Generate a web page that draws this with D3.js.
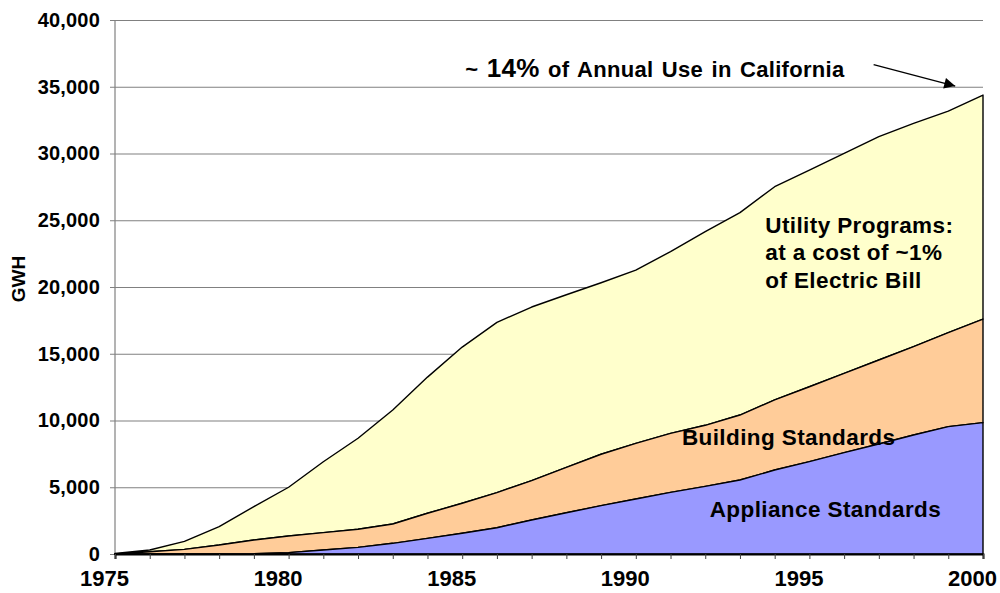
<!DOCTYPE html>
<html>
<head>
<meta charset="utf-8">
<script src="https://cdn.jsdelivr.net/npm/d3@7"></script>
<style>
  body { margin: 0; background: #fff; }
  text { font-family: "Liberation Sans", Arial, sans-serif; font-weight: bold; fill: #000; }
</style>
</head>
<body>
<div id="chart"></div>
<script>
// data (GWH saved per year)
const years = d3.range(1975, 2001);
const appliance = [0, 0, 0, 0, 20, 100, 300, 500, 800, 1170, 1550, 1970, 2550, 3090, 3620, 4120, 4620, 5070, 5540, 6290, 6920, 7590, 8240, 8910, 9540, 9840];
const building = [0, 170, 350, 670, 1030, 1250, 1300, 1350, 1450, 1880, 2250, 2630, 2940, 3400, 3850, 4170, 4420, 4570, 4870, 5250, 5610, 5940, 6290, 6620, 7040, 7760];
const utility = [50, 130, 600, 1380, 2500, 3650, 5310, 6820, 8540, 10200, 11700, 12750, 13010, 12930, 12850, 12980, 13610, 14500, 15160, 15970, 16230, 16480, 16730, 16730, 16600, 16780];
const seriesKeys = ["appliance", "building", "utility"];
const seriesColors = ["#9999FF", "#FFCC99", "#FFFFCC"];
const yTicks = [0, 5000, 10000, 15000, 20000, 25000, 30000, 35000, 40000];
const xTickLabels = [1975, 1980, 1985, 1990, 1995, 2000];

let dimensions = {
  width: 1000,
  height: 593,
  margin: { top: 20, right: 17, bottom: 39, left: 115 },
};
dimensions.boundedWidth = dimensions.width - dimensions.margin.left - dimensions.margin.right;
dimensions.boundedHeight = dimensions.height - dimensions.margin.top - dimensions.margin.bottom;

const dataset = years.map((yr, i) => ({
  year: yr,
  appliance: appliance[i],
  building: building[i],
  utility: utility[i],
}));

const wrapper = d3.select("#chart")
  .append("svg")
  .attr("width", dimensions.width)
  .attr("height", dimensions.height);

const bounds = wrapper.append("g")
  .attr("transform", `translate(${dimensions.margin.left},${dimensions.margin.top})`);

const x = d3.scaleLinear().domain([1975, 2000]).range([0, dimensions.boundedWidth]);
const yScale = d3.scaleLinear().domain([0, 40000]).range([dimensions.boundedHeight, 0]);

// gridlines + y axis
const yAxisGenerator = d3.axisLeft(yScale)
  .tickValues(yTicks)
  .tickSize(-dimensions.boundedWidth)
  .tickFormat(d3.format(","));

const yAxis = bounds.append("g").call(yAxisGenerator);
yAxis.select(".domain").remove();
yAxis.selectAll(".tick line")
  .attr("x1", -5)
  .attr("stroke", "#808080")
  .attr("stroke-width", 1.2);
yAxis.selectAll(".tick text")
  .attr("x", -15)
  .style("font-size", "20px")
  .style("letter-spacing", "0.2px")
  .style("font-family", "'Liberation Sans', Arial, sans-serif")
  .style("font-weight", "bold")
  .attr("fill", "#000");

bounds.append("line")
  .attr("x1", 0).attr("x2", 0)
  .attr("y1", 0).attr("y2", dimensions.boundedHeight)
  .attr("stroke", "#808080")
  .attr("stroke-width", 1.2);

// stacked areas
const stack = d3.stack().keys(seriesKeys);
const layers = stack(dataset);

const areaGenerator = d3.area()
  .x((d) => x(d.data.year))
  .y0((d) => yScale(d[0]))
  .y1((d) => yScale(d[1]));

bounds.selectAll(".layer")
  .data(layers.slice().reverse())
  .join("path")
  .attr("class", "layer")
  .attr("d", areaGenerator)
  .attr("fill", (d) => seriesColors[seriesKeys.indexOf(d.key)])
  .attr("stroke", "#000")
  .attr("stroke-width", 1.4)
  .attr("stroke-linejoin", "round");

// x axis
const xAxisGenerator = d3.axisBottom(x)
  .tickValues(years)
  .tickSize(5)
  .tickFormat((d) => (xTickLabels.includes(d) ? d : ""));

const xAxis = bounds.append("g")
  .attr("transform", `translate(0,${dimensions.boundedHeight})`)
  .call(xAxisGenerator);
xAxis.select(".domain")
  .attr("stroke", "#000")
  .attr("stroke-width", 2);
xAxis.selectAll(".tick line").attr("stroke", "#404040");
xAxis.selectAll(".tick text")
  .attr("y", 16)
  .attr("x", -11)
  .style("font-size", "22px")
  .style("font-family", "'Liberation Sans', Arial, sans-serif")
  .style("font-weight", "bold")
  .attr("fill", "#000");

// y label
wrapper.append("text")
  .attr("transform", "translate(25,279) rotate(-90)")
  .attr("text-anchor", "middle")
  .style("font-size", "19px")
  .text("GWH");

// layer labels
const utilityLabel = bounds.append("text")
  .attr("y", yScale(24050))
  .style("font-size", "22.5px")
  .style("letter-spacing", "0.4px");
["Utility Programs:", "at a cost of ~1%", "of Electric Bill"].forEach((t, i) => {
  utilityLabel.append("tspan")
    .attr("x", x(1993.7) + 1)
    .attr("dy", i === 0 ? 0 : 27.5)
    .text(t);
});

bounds.append("text")
  .attr("x", x(1991.3) + 1)
  .attr("y", yScale(8150))
  .style("font-size", "22.5px")
  .style("letter-spacing", "0.4px")
  .text("Building Standards");

bounds.append("text")
  .attr("x", x(1992.1) + 1)
  .attr("y", yScale(2800))
  .style("font-size", "22.5px")
  .style("letter-spacing", "0.4px")
  .text("Appliance Standards");

// top annotation
const note = bounds.append("text")
  .attr("x", x(1985) + 3)
  .attr("y", yScale(35000) - 10)
  .style("font-size", "22px")
  .style("letter-spacing", "0.3px")
  .style("word-spacing", "2px");
note.append("tspan").text("~ ");
note.append("tspan").style("font-size", "26px").text("14%");
note.append("tspan").text(" of Annual Use in California");

wrapper.append("defs").append("marker")
  .attr("id", "arrowhead")
  .attr("viewBox", "0 0 10 10")
  .attr("refX", 10)
  .attr("refY", 5)
  .attr("markerWidth", 14)
  .attr("markerHeight", 11)
  .attr("markerUnits", "userSpaceOnUse")
  .attr("orient", "auto")
  .append("path")
  .attr("d", "M0,0 L10,5 L0,10 Z")
  .attr("fill", "#000");

bounds.append("line")
  .attr("x1", x(1996.85))
  .attr("y1", yScale(36650))
  .attr("x2", x(1999.2))
  .attr("y2", yScale(35050))
  .attr("stroke", "#000")
  .attr("stroke-width", 1.3)
  .attr("marker-end", "url(#arrowhead)");
</script>
</body>
</html>
